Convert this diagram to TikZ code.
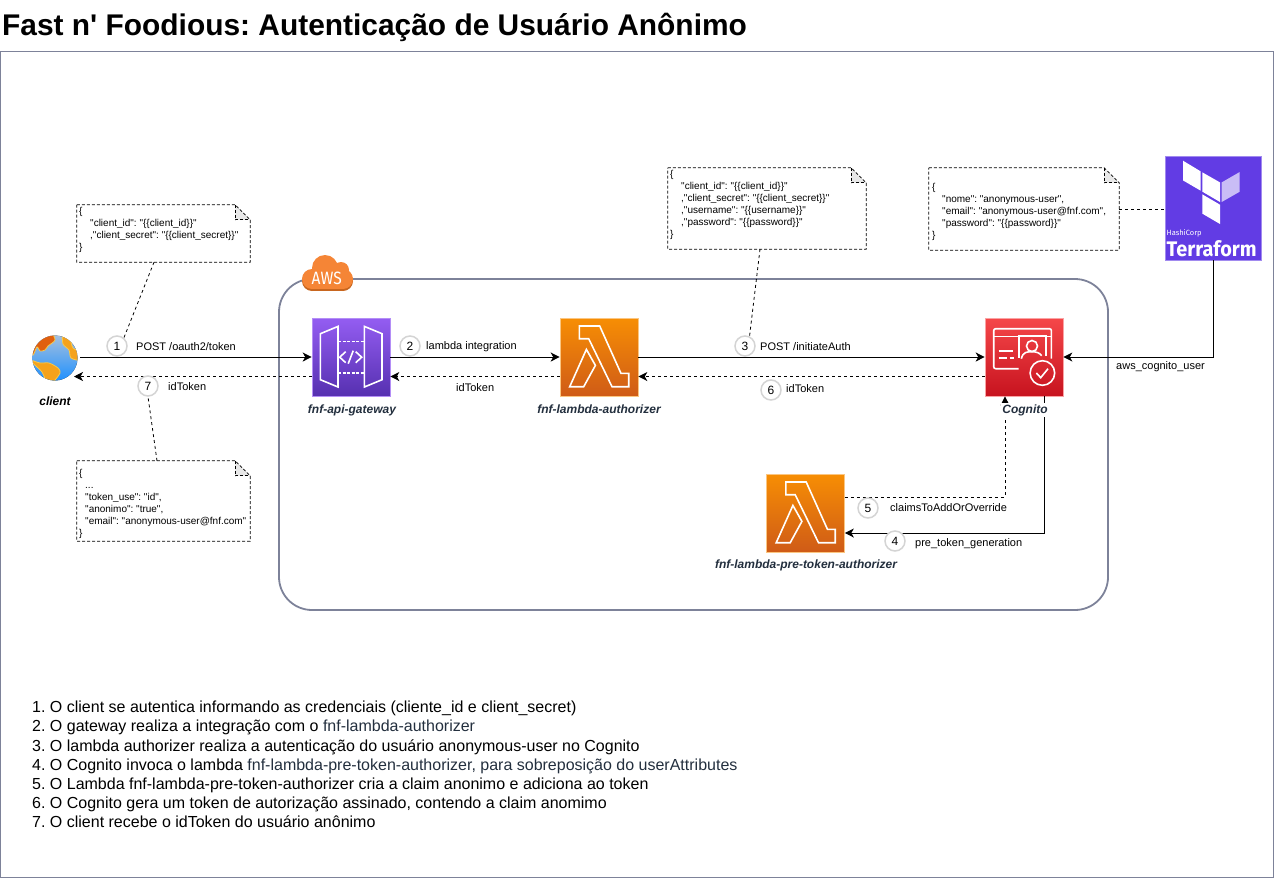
\documentclass[tikz,border=0pt]{standalone}
\usepackage{fontspec}
\usepackage{graphicx}
\setmainfont{Liberation Sans}[Ligatures=TeXOff]
\newfontfamily\logofont{Fira Sans}
\usetikzlibrary{arrows.meta}
\definecolor{framegray}{HTML}{7D8299}
\definecolor{awsorange}{HTML}{F58536}
\definecolor{awsshade}{HTML}{C8661F}
\definecolor{inkdark}{HTML}{232F3E}
\definecolor{tfpurple}{HTML}{623CE4}
\definecolor{tflight}{HTML}{C9BDF6}
\definecolor{gatewaytop}{HTML}{945DF2}
\definecolor{gatewaybot}{HTML}{5630B0}
\definecolor{lambdatop}{HTML}{F78E04}
\definecolor{lambdabot}{HTML}{CF5B17}
\definecolor{cognitotop}{HTML}{F54749}
\definecolor{cognitobot}{HTML}{C7131F}
\definecolor{seatop}{HTML}{A5C0DE}
\definecolor{seabot}{HTML}{1E90FF}
\definecolor{landedge}{HTML}{F7C84A}
\definecolor{landmid}{HTML}{F5A21B}
\definecolor{landred}{HTML}{E0600F}
\tikzset{
  flow/.style={-{Stealth[length=9pt,width=9pt,inset=2.5pt]},line width=1pt,black},
  flowback/.style={flow,dash pattern=on 3pt off 3pt},
  notelink/.style={black,line width=.8pt,dash pattern=on 3pt off 3pt},
  noteshell/.style={inner sep=0pt},
  notebox/.style={anchor=north west,inner sep=0pt,align=left,font=\fontsize{10}{12}\selectfont},
  noteline/.style={black,line width=.8pt,dash pattern=on 3pt off 2pt},
  stepmark/.style={circle,draw=black!17,line width=1.5pt,fill=white,minimum size=20pt,inner sep=0pt,font=\fontsize{12}{12}\selectfont},
  flowlabel/.style={anchor=west,inner sep=0pt,font=\fontsize{11}{13}\selectfont},
  iconlabel/.style={inner sep=1.5pt,fill=white,text=inkdark,font=\fontsize{12}{14}\selectfont\bfseries\itshape},
  iconbox/.style={minimum size=78pt,inner sep=0pt,line width=.6pt},
  iconpurple/.style={iconbox,draw=gatewaytop!70!white,top color=gatewaytop,bottom color=gatewaybot},
  iconorange/.style={iconbox,draw=lambdatop!50!white,top color=lambdatop,bottom color=lambdabot},
  iconred/.style={iconbox,draw=cognitotop!50!white,top color=cognitotop,bottom color=cognitobot},
  glyph/.style={draw=white,line width=1.6pt,line join=miter},
  land/.style={draw=landedge,line width=.8pt},
}
\newcommand{\lambdaglyph}[1]{%
  \begin{scope}[shift={(#1.north west)}]
    \draw[glyph] (19.7,8.3) -- (40,8.3) -- (61.3,55.7) -- (69,55.7) -- (69,69) -- (52.3,69) -- (29,21) -- (19.7,21) -- cycle;
    \draw[glyph] (26.7,31.7) -- (35.7,47.7) -- (24,69) -- (10,69) -- cycle;
  \end{scope}}
\newcommand{\noteframe}[1]{%
  \fill[black!9] ([xshift=-15pt]#1.north east) -- ([yshift=-15pt]#1.north east) -- ([xshift=-15pt,yshift=-15pt]#1.north east) -- cycle;
  \draw[noteline] (#1.north west) -- ([xshift=-15pt]#1.north east) -- ([yshift=-15pt]#1.north east) -- (#1.south east) -- (#1.south west) -- cycle;
  \draw[noteline] ([xshift=-15pt]#1.north east) -- ([xshift=-15pt,yshift=-15pt]#1.north east) -- ([yshift=-15pt]#1.north east);}
\begin{document}
\frenchspacing
\begin{tikzpicture}[x=1pt,y=-1pt]
\useasboundingbox (0,0) rectangle (1274,878);
\node[anchor=base west,inner sep=0pt,font=\fontsize{29.9}{32}\selectfont\bfseries] (title) at (2,35) {Fast n' Foodious: Autenticação de Usuário Anônimo};
\node[draw=framegray,line width=1pt,minimum width=1273pt,minimum height=826pt,inner sep=0pt] (frame) at (636.5,464) {};
\node[draw=framegray,line width=1.8pt,rounded corners=33pt,minimum width=829pt,minimum height=331pt,inner sep=0pt] (awsgroup) at (693.5,444.5) {};

\foreach \cx/\cy/\cr in {312/281/10,343/281/10}
  \fill[awsshade] (\cx,\cy) circle (\cr);
\fill[awsshade] (312,271) rectangle (343,291);
\foreach \cx/\cy/\cr in {325/268/13,341/270/8,312/279/10,343/279/10}
  \fill[awsorange] (\cx,\cy) circle (\cr);
\fill[awsorange] (312,269) rectangle (343,289);
\node[text=white,inner sep=0pt,font=\logofont] (awstag) at (326.7,278) {\resizebox{30pt}{12.5pt}{AWS}};

\node[minimum size=50pt,inner sep=0pt] (client) at (55,358) {};
\begin{scope}[shift={(55,358)}]
  \clip (0,0) circle (22.5);
  \fill[top color=seatop,bottom color=seabot] (-23,-23) rectangle (23,23);
  \fill[landmid,land] plot[smooth cycle] coordinates {(-25,2) (-15,5) (-6,5) (3,10) (5,15) (-2,24) (-8,24) (-13,14) (-18,9)};
  \fill[landred,land] plot[smooth cycle] coordinates {(-25,-10) (-20,-18) (-5,-25) (0,-18) (-7,-12) (-10,-8) (-15,-7) (-18,-11) (-22,-3)};
  \fill[landmid,land] plot[smooth cycle] coordinates {(8,-24) (15,-18) (18,-10) (25,-6) (25,2) (16,0) (14,-8) (8,-14)};
\end{scope}

\node[iconpurple] (gateway) at (351,357) {};
\begin{scope}[shift={(gateway.north west)}]
  \draw[glyph] (8.7,16) -- (26.3,8.7) -- (26.3,69.3) -- (8.7,62) -- cycle;
  \draw[glyph] (52.7,8.7) -- (70.3,16) -- (70.3,62) -- (52.7,69.3) -- cycle;
  \draw[glyph,dash pattern=on 3pt off 1.5pt] (26.3,23.7) -- (52.7,23.7);
  \draw[glyph,dash pattern=on 3pt off 1.5pt] (26.3,55.3) -- (52.7,55.3);
  \draw[glyph] (34,34) -- (28,39.5) -- (34,45);
  \draw[glyph] (41.5,33) -- (36.5,46);
  \draw[glyph] (44,34) -- (50,39.5) -- (44,45);
\end{scope}

\node[iconorange] (authorizer) at (599,357) {};
\lambdaglyph{authorizer}
\node[iconorange] (preauth) at (805.5,513) {};
\lambdaglyph{preauth}

\node[iconred] (cognito) at (1024,357) {};
\begin{scope}[shift={(cognito.north west)}]
  \draw[glyph,rounded corners=2pt] (34,51) -- (9,51) -- (9,11) -- (66.7,11) -- (66.7,41);
  \draw[glyph] (9,18.7) -- (34,18.7) (61,18.7) -- (66.7,18.7);
  \draw[glyph] (34,40) -- (34,18) -- (61,18) -- (61,38);
  \draw[glyph] (47.3,28.3) circle (5.5);
  \draw[glyph] (36.7,41) .. controls (38,34) and (43,34) .. (47.3,34) .. controls (51,34) and (55,35) .. (57,38);
  \draw[glyph] (14,33.3) -- (28.3,33.3);
  \draw[glyph] (14,40) -- (22.7,40) (25,40) -- (29,40);
  \draw[glyph] (57.7,55.3) circle (12.3);
  \draw[glyph] (51.7,55.3) -- (56,60) -- (63.3,51);
\end{scope}

\node[fill=tfpurple,draw=tfpurple!60!white,line width=.6pt,minimum width=96pt,minimum height=104pt,inner sep=0pt] (terraform) at (1213,208) {};
\begin{scope}[shift={(terraform.north west)}]
  \fill[white] (18.3,5) -- (36,15.7) -- (36,35) -- (18.3,24.7) -- cycle;
  \fill[white] (37.7,16.7) -- (55.3,26.7) -- (55.3,46.3) -- (37.7,36) -- cycle;
  \fill[white] (37.7,38.7) -- (55.3,49) -- (55.3,68.3) -- (37.7,58) -- cycle;
  \fill[tflight] (57,26.7) -- (75,16.3) -- (75,36) -- (57,46.3) -- cycle;
\end{scope}
\node[anchor=west,text=white,inner sep=0pt,font=\fontsize{7.5}{8}\selectfont\logofont] (hashicorp) at (1166.5,233.5) {HashiCorp};
\node[anchor=west,text=white,inner sep=0pt,font=\logofont\bfseries] (tfname) at (1166.5,248.7) {\resizebox{90pt}{16pt}{Terraform}};

\node[noteshell,minimum width=173pt,minimum height=57pt] (noteclient) at (163.5,233.5) {};
\node[noteshell,minimum width=173pt,minimum height=80pt] (notetoken) at (163.5,501) {};
\node[noteshell,minimum width=198pt,minimum height=81pt] (noteauth) at (767,208.5) {};
\node[noteshell,minimum width=190pt,minimum height=82pt] (noteuser) at (1024,209) {};
\noteframe{noteclient}
\noteframe{notetoken}
\noteframe{noteauth}
\noteframe{noteuser}
\node[notebox] (textclient) at (79,207) {\{\\\hspace*{11pt}"client\_id": "\{\{client\_id\}\}"\\\hspace*{11pt},"client\_secret": "\{\{client\_secret\}\}"\\\}};
\node[notebox] (texttoken) at (79,469) {\{\\\hspace*{6pt}...\\\hspace*{6pt}"token\_use": "id",\\\hspace*{6pt}"anonimo": "true",\\\hspace*{6pt}"email": "anonymous-user@fnf.com"\\\}};
\node[notebox] (textauth) at (670,170) {\{\\\hspace*{11pt}"client\_id": "\{\{client\_id\}\}"\\\hspace*{11pt},"client\_secret": "\{\{client\_secret\}\}"\\\hspace*{11pt},"username": "\{\{username\}\}"\\\hspace*{11pt},"password": "\{\{password\}\}"\\\}};
\node[notebox] (textuser) at (932,183) {\{\\\hspace*{10pt}"nome": "anonymous-user",\\\hspace*{10pt}"email": "anonymous-user@fnf.com",\\\hspace*{10pt}"password": "\{\{password\}\}"\\\}};

\coordinate (clientback) at (74,376.5);
\draw[flow] (client.east |- gateway.west) -- (gateway.west);
\draw[flowback] ([yshift=-19.5pt]gateway.west) -- (clientback);
\draw[flow] (gateway.east) -- (authorizer.west);
\draw[flowback] ([yshift=-19.5pt]authorizer.west) -- ([yshift=-19.5pt]gateway.east);
\draw[flow] (authorizer.east) -- (cognito.west);
\draw[flowback] ([yshift=-19.5pt]cognito.west) -- ([yshift=-19.5pt]authorizer.east);
\draw[flow] (terraform.south) |- (cognito.east);
\draw[flow] ([xshift=20pt]cognito.south) |- ([yshift=-20pt]preauth.east);
\draw[flowback] ([yshift=16pt]preauth.east) -| ([xshift=-19pt]cognito.south);

\node[stepmark] (step1) at (117,346) {1};
\node[stepmark] (step2) at (410,346) {2};
\node[stepmark] (step3) at (745,346) {3};
\node[stepmark] (step4) at (895,541) {4};
\node[stepmark] (step5) at (868,508) {5};
\node[stepmark] (step6) at (771,390) {6};
\node[stepmark] (step7) at (148,386) {7};

\draw[notelink] ([xshift=-9.5pt]noteclient.south) -- (step1.50);
\draw[notelink] ([xshift=-6.5pt]notetoken.north) -- (step7.south);
\draw[notelink] ([xshift=-7pt]noteauth.south) -- (step3.65);
\draw[notelink] (noteuser.east) -- (noteuser.east -| terraform.west);

\node[flowlabel] (postoauth) at (136,347) {POST /oauth2/token};
\node[flowlabel] (idclient) at (168,387) {idToken};
\node[flowlabel] (integration) at (426,347) {lambda integration};
\node[flowlabel] (idgateway) at (456,388) {idToken};
\node[flowlabel] (postauth) at (760,347) {POST /initiateAuth};
\node[flowlabel] (idauth) at (786,389) {idToken};
\node[flowlabel] (cognitouser) at (1116,367) {aws\_cognito\_user};
\node[flowlabel] (claims) at (890,508) {claimsToAddOrOverride};
\node[flowlabel] (pretoken) at (915,544) {pre\_token\_generation};

\node[iconlabel,text=black] (lblclient) at (55,401) {client};
\node[iconlabel] (lblgateway) at (352,410) {fnf-api-gateway};
\node[iconlabel] (lblauthorizer) at (599,409) {fnf-lambda-authorizer};
\node[iconlabel] (lblcognito) at (1025,410) {Cognito};
\node[iconlabel] (lblpreauth) at (806,565) {fnf-lambda-pre-token-authorizer};

\node[anchor=north west,inner sep=0pt,align=left,font=\fontsize{16}{19.1}\selectfont] (steplist) at (32,701) {1. O client se autentica informando as credenciais (cliente\_id e client\_secret)\\
2. O gateway realiza a integração com o \textcolor{inkdark}{fnf-lambda-authorizer}\\
3. O lambda authorizer realiza a autenticação do usuário anonymous-user no Cognito\\
4. O Cognito invoca o lambda \textcolor{inkdark}{fnf-lambda-pre-token-authorizer, para sobreposição do userAttributes}\\
5. O Lambda fnf-lambda-pre-token-authorizer cria a claim anonimo e adiciona ao token\\
6. O Cognito gera um token de autorização assinado, contendo a claim anomimo\\
7. O client recebe o idToken do usuário anônimo};
\end{tikzpicture}
\end{document}
